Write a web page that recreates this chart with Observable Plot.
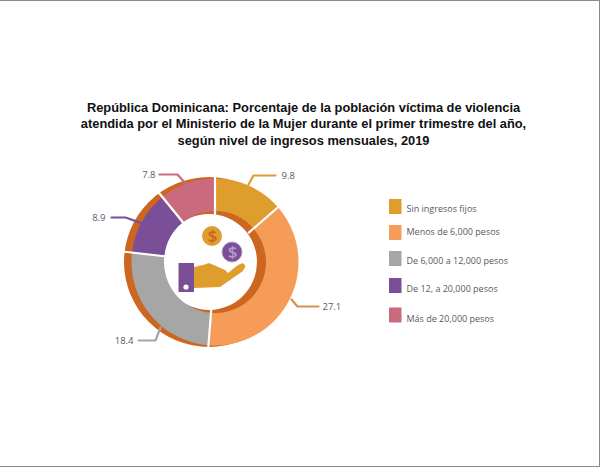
<!DOCTYPE html>
<html lang="es">
<head>
<meta charset="utf-8">
<script src="https://cdn.jsdelivr.net/npm/d3@7"></script>
<script src="https://cdn.jsdelivr.net/npm/@observablehq/plot@0.6"></script>
<style>
html,body{margin:0;padding:0;background:#fff;}
#wrap{position:relative;width:600px;height:467px;overflow:hidden;box-sizing:border-box;}
#wrap::after{content:"";position:absolute;inset:0;box-sizing:border-box;border:1px solid #8a8a8a;border-left:none;pointer-events:none;}
#title{height:50px;padding-top:100px;padding-left:7px;box-sizing:content-box;text-align:center;font:bold 12.85px/16.4px "Liberation Sans",Arial,sans-serif;color:#111;}
svg{display:block;}
</style>
</head>
<body>
<div id="wrap">
<div id="title">República Dominicana: Porcentaje de la población víctima de violencia<br>atendida por el Ministerio de la Mujer durante el primer trimestre del año,<br>según nivel de ingresos mensuales, 2019</div>
</div>
<script>
const categories = ["Sin ingresos fijos", "Menos de 6,000 pesos", "De 6,000 a 12,000 pesos", "De 12, a 20,000 pesos", "Más de 20,000 pesos"];
const values = [9.8, 27.1, 18.4, 8.9, 7.8];
const colors = ["#DF9D2E", "#F59C59", "#A6A6A6", "#7A4F97", "#C96A7E"];

const rows = categories.map((category, i) => ({category, value: values[i]}));
const plotTop = 150;
const cx = 215, cy = 262;
const font = "'Open Sans', sans-serif";
const textColor = "#58595B";

// Leader-line layout: elbow and end of each callout, label beside the end.
const leaderLayout = [
  {from: [247, 186], elbow: [253, 175], end: [275, 175], label: [281, 175], anchor: "start", stroke: "#DF9D2E"},
  {from: [291, 299], elbow: [297, 306], end: [318, 306], label: [322, 306.5], anchor: "start", stroke: "#D9904F"},
  {from: [160, 327], elbow: [155, 340], end: [138, 340], label: [133, 340], anchor: "end", stroke: "#A6A6A6"},
  {from: [142, 223], elbow: [125, 217], end: [111, 217], label: [105, 217], anchor: "end", stroke: "#7A4F97"},
  {from: [185, 183], elbow: [177, 174], end: [159, 174], label: [155, 174], anchor: "end", stroke: "#C96A7E"}
];
const leaderPoints = leaderLayout.flatMap((l, i) =>
  [l.from, l.elbow, l.end].map(([x, y]) => ({x, y, i, stroke: l.stroke})));
const leaderLabels = leaderLayout.map((l, i) => ({x: l.label[0], y: l.label[1], anchor: l.anchor, text: String(values[i])}));

// Legend rows
const legendY = [199, 225, 251, 278, 307.5];
const legendTextY = [209, 232, 261, 289, 319];
const legendRows = rows.map((r, i) => ({...r, y: legendY[i], ty: legendTextY[i]}));

function donut(index, {x, y, color}) {
  const g = d3.create("svg:g");
  // dark backing ring, slightly offset to the left of the slices
  const backing = d3.arc().innerRadius(48).outerRadius(85).startAngle(0).endAngle(2 * Math.PI);
  g.append("path").attr("d", backing()).attr("fill", "#CC6620")
    .attr("transform", `translate(${x(cx - 6)},${y(cy)})`);
  const pie = d3.pie().sort(null).value(d => d.value)(rows);
  const arc = d3.arc().innerRadius(51).outerRadius(83.5);
  const center = g.append("g").attr("transform", `translate(${x(cx)},${y(cy)})`);
  center.selectAll("path").data(pie).join("path")
    .attr("d", arc)
    .attr("fill", d => color(d.data.category));
  // white separators cut through the slices and the backing ring alike
  center.selectAll("line").data(pie).join("line")
    .attr("x1", d => 44 * Math.sin(d.startAngle)).attr("y1", d => -44 * Math.cos(d.startAngle))
    .attr("x2", d => 93 * Math.sin(d.startAngle)).attr("y2", d => -93 * Math.cos(d.startAngle))
    .attr("stroke", "#fff").attr("stroke-width", 2.2);
  return g.node();
}

function icon(index, {x, y}) {
  const g = d3.create("svg:g");
  const line = d3.line().x(d => x(d[0])).y(d => y(d[1]));
  g.append("circle").attr("cx", x(212)).attr("cy", y(236)).attr("r", 10).attr("fill", "#DF9D2E");
  g.append("circle").attr("cx", x(232)).attr("cy", y(252)).attr("r", 10).attr("fill", "#7A4F97")
    .attr("stroke", "#B79CCB").attr("stroke-width", 1);
  g.append("path").attr("fill", "#DF9D2E").attr("d", line([
    [194, 267], [203, 265], [209, 263], [216, 266], [225, 270], [228, 273],
    [238, 265], [243, 263], [245.5, 266], [243, 271], [220, 287], [194, 288]
  ]) + "Z");
  g.append("rect").attr("x", x(178.5)).attr("y", y(263)).attr("width", 15.5).attr("height", 29).attr("fill", "#7A4F97");
  g.append("circle").attr("cx", x(186)).attr("cy", y(287)).attr("r", 2.6).attr("fill", "#fff");
  return g.node();
}

const chart = Plot.plot({
  width: 600,
  height: 467 - plotTop,
  margin: 0,
  x: {domain: [0, 600], axis: null},
  y: {domain: [plotTop, 467], range: [0, 467 - plotTop], axis: null},
  color: {domain: categories, range: colors},
  marks: [
    donut,
    icon,
    Plot.text(["$"], {x: () => 212, y: () => 236.5, text: d => d, fill: "#C9651F", fontSize: 17, fontWeight: 600, fontFamily: font}),
    Plot.text(["$"], {x: () => 232, y: () => 252.5, text: d => d, fill: "#B79CCB", fontSize: 17, fontWeight: 600, fontFamily: font}),
    Plot.line(leaderPoints, {x: "x", y: "y", z: "i", stroke: "stroke", strokeWidth: 2.2, curve: "linear"}),
    Plot.text(leaderLabels.filter(d => d.anchor === "start"), {x: "x", y: "y", text: "text", textAnchor: "start", fill: textColor, fontSize: 9.5, fontFamily: font}),
    Plot.text(leaderLabels.filter(d => d.anchor === "end"), {x: "x", y: "y", text: "text", textAnchor: "end", fill: textColor, fontSize: 9.5, fontFamily: font}),
    Plot.rect(legendRows, {x1: () => 389, x2: () => 401.5, y1: "y", y2: d => d.y + 15, fill: "category"}),
    Plot.text(legendRows, {x: () => 406, y: "ty", text: "category", textAnchor: "start", fill: textColor, fontSize: 9, fontFamily: font})
  ]
});
document.getElementById("wrap").appendChild(chart);
</script>
</body>
</html>
